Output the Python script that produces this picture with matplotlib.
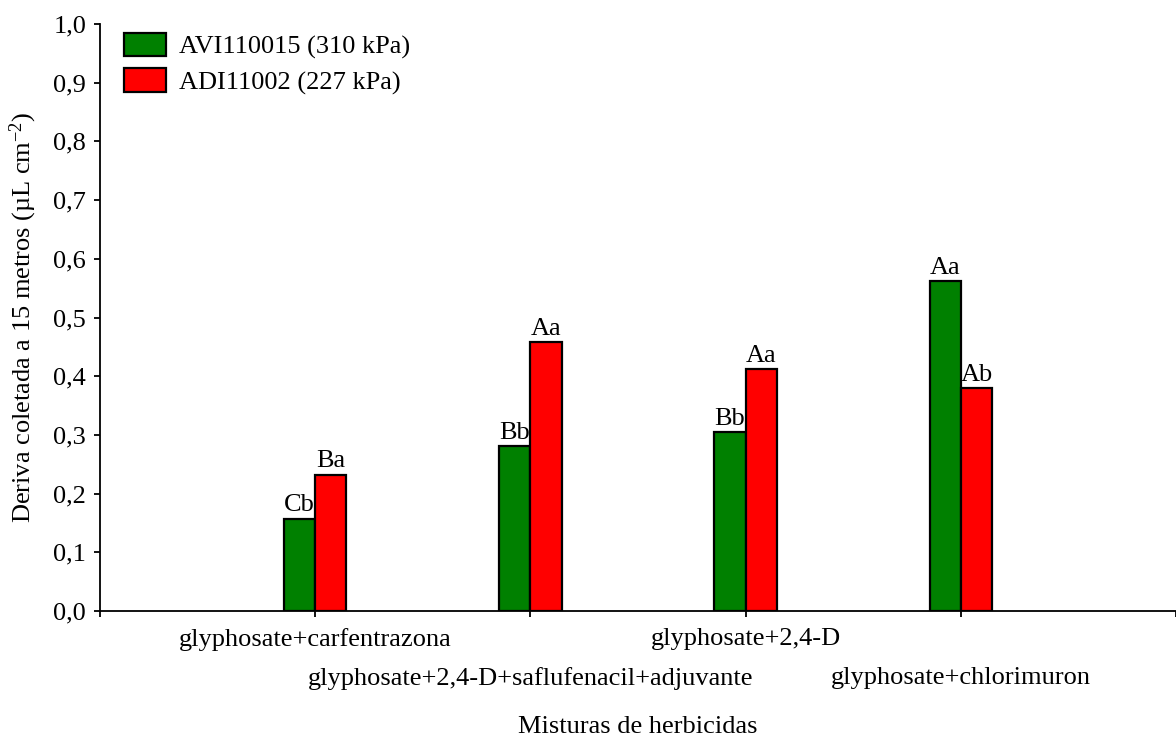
import numpy as np
import matplotlib.pyplot as plt
from matplotlib.ticker import FuncFormatter

plt.rcParams['font.family'] = ['Liberation Serif', 'DejaVu Serif']
plt.rcParams['mathtext.fontset'] = 'custom'
plt.rcParams['mathtext.rm'] = 'Liberation Serif'
plt.rcParams['mathtext.it'] = 'Liberation Serif:italic'

misturas = ["glyphosate+carfentrazona",
            "glyphosate+2,4-D+saflufenacil+adjuvante",
            "glyphosate+2,4-D",
            "glyphosate+chlorimuron"]
avi = [0.157, 0.281, 0.305, 0.562]
adi = [0.232, 0.458, 0.412, 0.380]
letras_avi = ["Cb", "Bb", "Bb", "Aa"]
letras_adi = ["Ba", "Aa", "Aa", "Ab"]
nomes = ["AVI110015 (310 kPa)", "ADI11002 (227 kPa)"]

fs = 19
fig = plt.figure(figsize=(11.76, 7.4), dpi=100)
ax = fig.add_axes([100/1176, 129/740, 1 - 100/1176, (611-24)/740])

x = np.arange(len(misturas))
w = 0.145
ax.bar(x - w/2, avi, w, color='#008000', edgecolor='black', linewidth=1.6, label=nomes[0])
ax.bar(x + w/2, adi, w, color='#ff0000', edgecolor='black', linewidth=1.6, label=nomes[1])

for xi, v, t in zip(x - w/2, avi, letras_avi):
    ax.text(xi, v + 0.004, t, ha='center', va='bottom', fontsize=fs)
for xi, v, t in zip(x + w/2, adi, letras_adi):
    ax.text(xi, v + 0.004, t, ha='center', va='bottom', fontsize=fs)

ax.set_xlim(-1, 4)
ax.set_ylim(0, 1.0)
ax.set_yticks(np.arange(0, 1.01, 0.1))
ax.yaxis.set_major_formatter(FuncFormatter(lambda v, p: f"{v:.1f}".replace('.', ',')))
ax.set_xticks([-1, 0, 1, 2, 3, 4])
ax.set_xticklabels([""] + misturas + [""])
for i, tk in enumerate(ax.xaxis.get_major_ticks()):
    tk.set_pad(8 if i % 2 == 1 else 36)
ax.tick_params(axis='both', labelsize=fs, width=1.3, length=4, direction='out')
ax.tick_params(axis='y', pad=6)

for s in ['top', 'right']:
    ax.spines[s].set_visible(False)
for s in ['left', 'bottom']:
    ax.spines[s].set_linewidth(1.3)

ax.set_ylabel("Deriva coletada a 15 metros (µL cm$^{\\mathrm{-2}}$)", fontsize=fs, labelpad=10)
fig.text(638/1176, 1 - 727/740, "Misturas de herbicidas", ha='center', va='center', fontsize=fs)

ax.legend(loc='upper left', bbox_to_anchor=(0.022, 0.985), frameon=False, fontsize=fs,
          handlelength=1.6, handleheight=1.0, handletextpad=0.5, labelspacing=0.35,
          borderaxespad=0, borderpad=0)

fig.savefig("out.png", dpi=100)
